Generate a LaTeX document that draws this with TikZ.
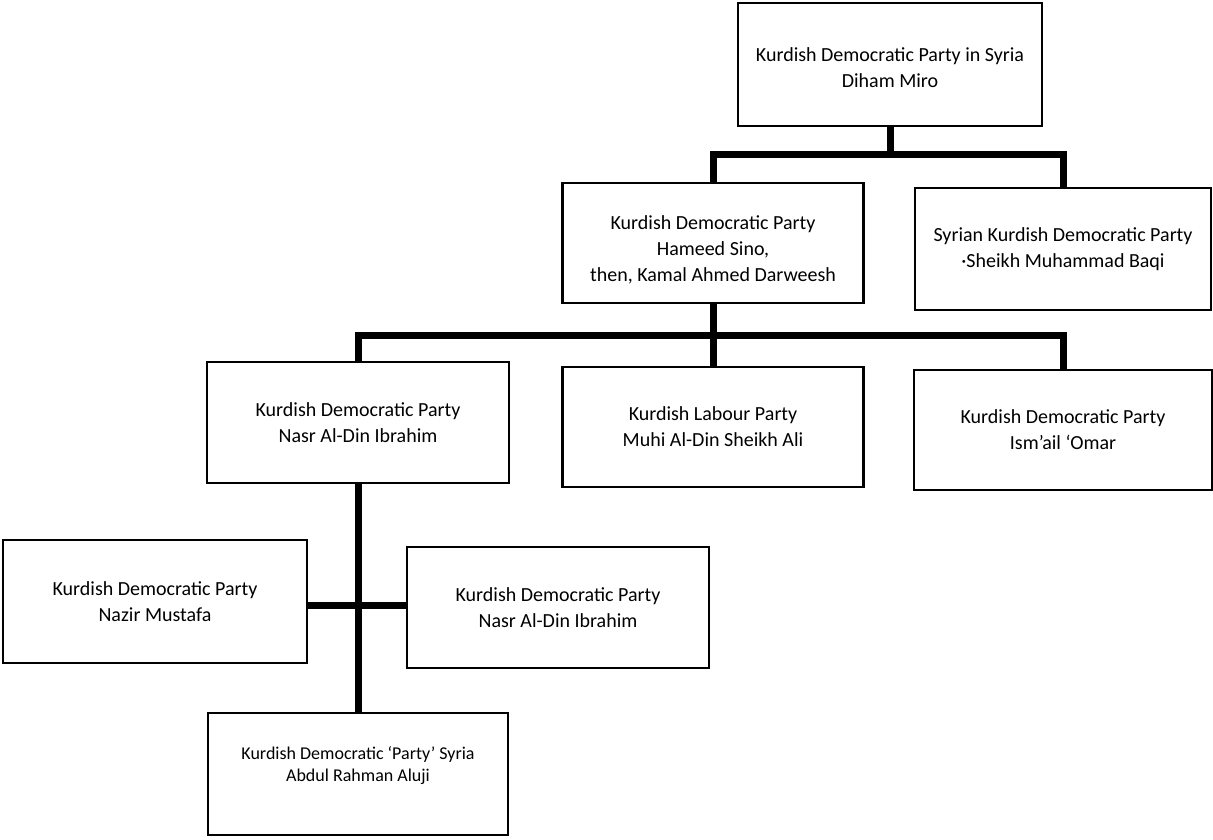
\documentclass[tikz,border=0pt]{standalone}
\usepackage{fontspec}
\setmainfont{Carlito}
\begin{document}
\begin{tikzpicture}[x=0.5pt, y=-0.5pt,
    party/.style={draw, line width=1.2pt, align=center, inner sep=0pt,
      font=\fontsize{10}{13}\selectfont},
    link/.style={line width=3.5pt}]
  \useasboundingbox (0, 0) rectangle (1213, 839);

  \node[party, minimum width=152pt, minimum height=61.5pt] (top) at (890, 64.5)
    {\mbox{}\\[-3pt]Kurdish Democratic Party in Syria\\Diham Miro};
  \node[party, minimum width=150.5pt, minimum height=60pt] (hameed) at (713, 243)
    {\mbox{}\\[1pt]Kurdish Democratic Party\\Hameed Sino,\\then, Kamal Ahmed Darweesh};
  \node[party, minimum width=148pt, minimum height=61pt] (baqi) at (1063, 249)
    {Syrian Kurdish Democratic Party\\·Sheikh Muhammad Baqi};
  \node[party, minimum width=151pt, minimum height=60.5pt] (nasr) at (358, 422.5)
    {Kurdish Democratic Party\\Nasr Al-Din Ibrahim};
  \node[party, minimum width=150.5pt, minimum height=60pt] (labour) at (713, 427)
    {Kurdish Labour Party\\Muhi Al-Din Sheikh Ali};
  \node[party, minimum width=149pt, minimum height=60pt] (omar) at (1063, 430)
    {Kurdish Democratic Party\\Ism’ail ‘Omar};
  \node[party, minimum width=152pt, minimum height=61.5pt] (nazir) at (155, 601.5)
    {Kurdish Democratic Party\\Nazir Mustafa};
  \node[party, minimum width=151pt, minimum height=60.5pt] (nasrb) at (558, 607.5)
    {Kurdish Democratic Party\\Nasr Al-Din Ibrahim};
  \node[party, minimum width=150pt, minimum height=61pt, font=\fontsize{9}{11}\selectfont]
    (aluji) at (358, 774)
    {Kurdish Democratic ‘Party’ Syria\\Abdul Rahman Aluji\\[-1pt]\mbox{}};

  \coordinate (j1) at (890, 155);
  \coordinate (j2) at (713, 335);
  \coordinate (j3) at (358, 605);

  \draw[link] (top.south) -- (j1);
  \draw[link] (hameed.north) |- (j1) -| (baqi.north);
  \draw[link] (hameed.south) -- (labour.north);
  \draw[link] (nasr.north) |- (j2) -| (omar.north);
  \draw[link] (nasr.south) -- (aluji.north);
  \draw[link] (nazir.east |- j3) -- (nasrb.west |- j3);
\end{tikzpicture}
\end{document}
